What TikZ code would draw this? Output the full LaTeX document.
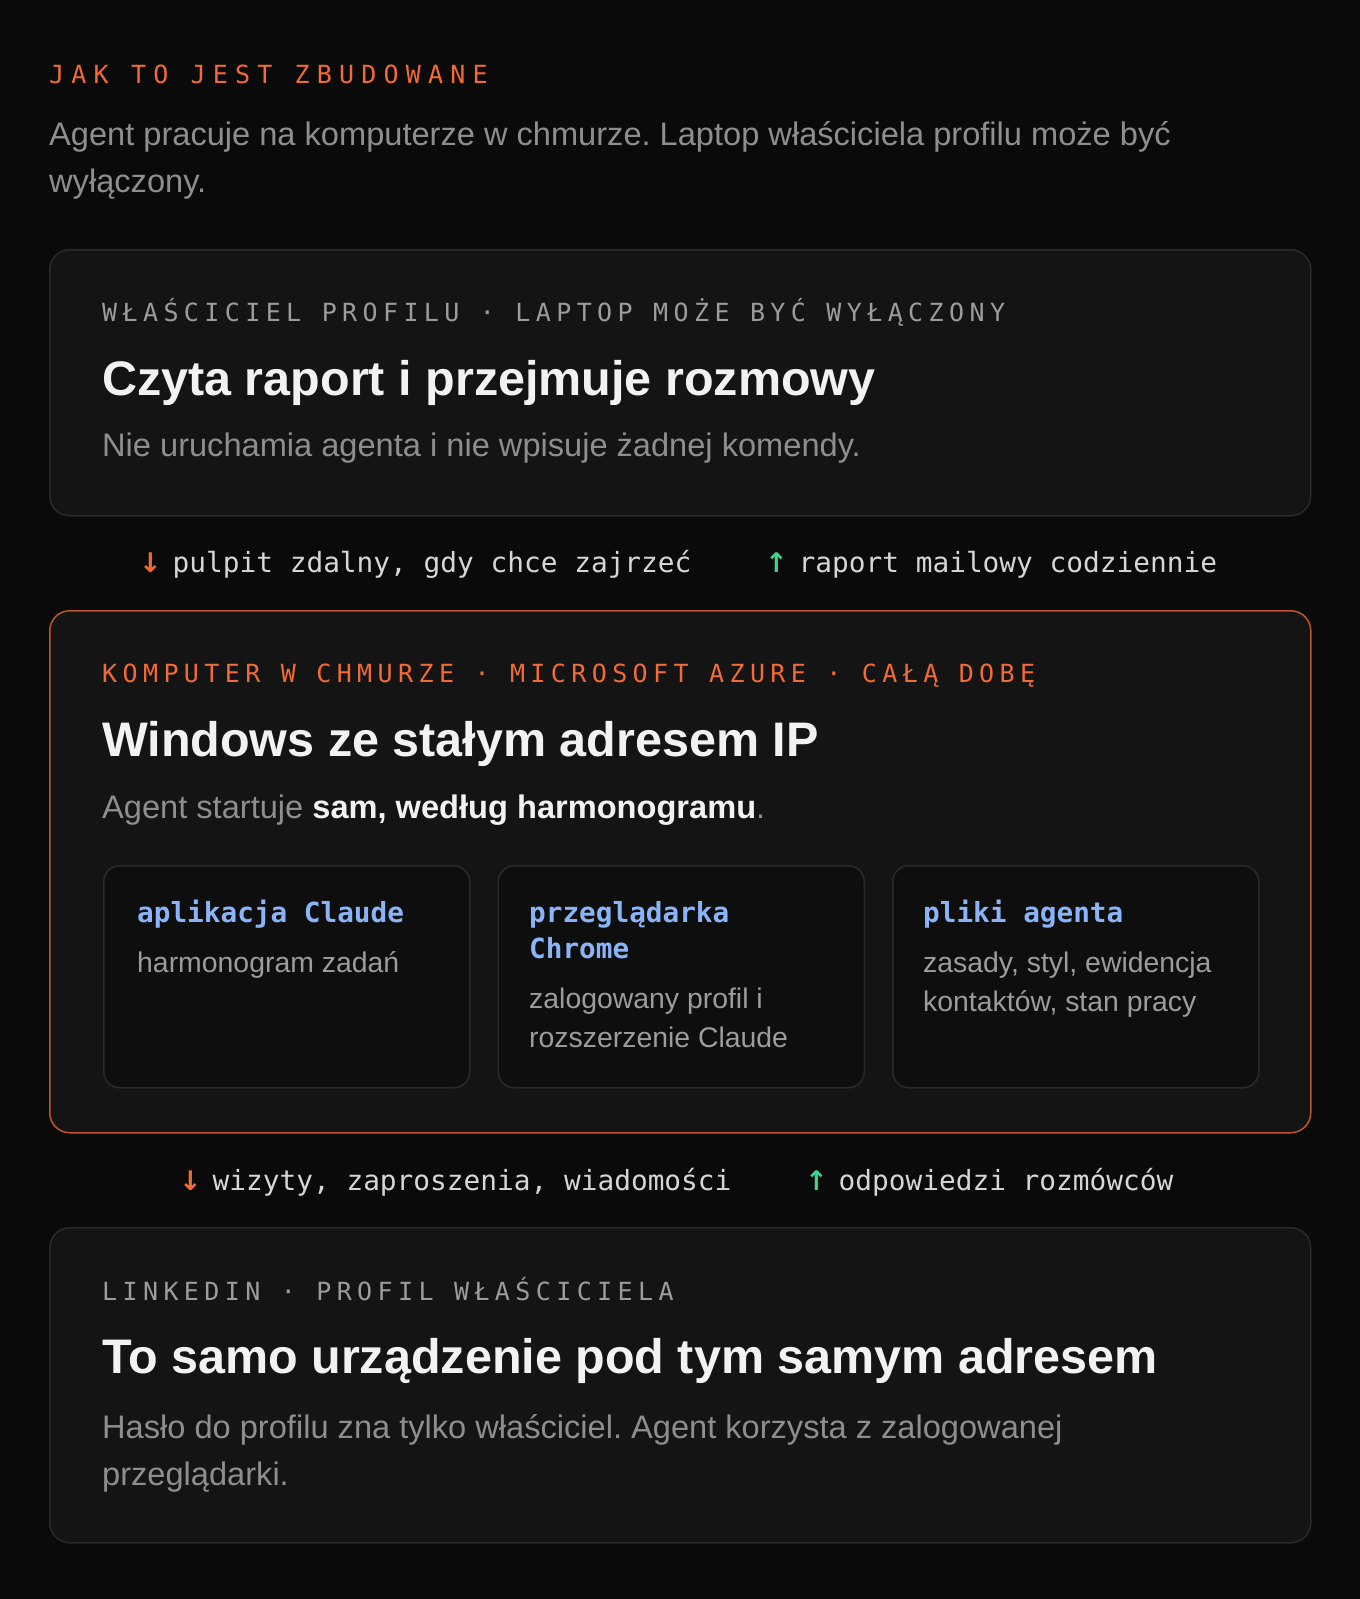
\documentclass[tikz,border=0pt]{standalone}
\usepackage{fontspec}
\setmainfont{Liberation Sans}
\newfontfamily\monofont{DejaVu Sans Mono}
\newfontfamily\arrowfont{DejaVu Sans}
\newfontfamily\capsfont[LetterSpace=21.6]{DejaVu Sans Mono}
\newfontfamily\kickerfont[LetterSpace=28.8]{DejaVu Sans Mono}
\usetikzlibrary{positioning}
\frenchspacing

\definecolor{pagebg}{HTML}{0A0A0A}
\definecolor{cardbg}{HTML}{141414}
\definecolor{tilebg}{HTML}{0E0E0E}
\definecolor{edge}{HTML}{2A2A2A}
\definecolor{hotedge}{HTML}{C0552B}
\definecolor{hot}{HTML}{F26A35}
\definecolor{go}{HTML}{3DD68C}
\definecolor{sky}{HTML}{8AB4F8}
\definecolor{ink}{HTML}{F2F2F0}
\definecolor{mute}{HTML}{8E8E8E}
\definecolor{dim}{HTML}{9C9C9C}
\definecolor{soft}{HTML}{D6D6D6}

\newcommand{\godown}{\makebox[16.7pt][l]{\arrowfont\bfseries\fontsize{27}{34}\selectfont\color{hot}↓}}
\newcommand{\goup}{\makebox[16.7pt][l]{\arrowfont\bfseries\fontsize{27}{34}\selectfont\color{go}↑}}

\begin{document}
\begin{tikzpicture}[x=1pt,y=-1pt,
  every node/.style={inner sep=0pt,anchor=base west},
  card/.style={draw=edge,fill=cardbg,line width=1.5pt,rounded corners=20pt,anchor=north west,minimum width=1261pt},
  tile/.style={draw=edge,fill=tilebg,line width=1.5pt,rounded corners=16pt,anchor=north west,minimum width=366pt,minimum height=222pt},
  kicker/.style={text=dim,font=\capsfont\fontsize{25}{30}\selectfont},
  headline/.style={text=ink,font=\bfseries\fontsize{48.5}{58}\selectfont},
  lead/.style={text=mute,font=\fontsize{32.6}{47}\selectfont,align=left},
  flow/.style={text=soft,font=\monofont\fontsize{27.8}{34}\selectfont},
  tiletitle/.style={text=sky,font=\monofont\bfseries\fontsize{27.7}{36.6}\selectfont,align=left},
  tiletext/.style={text=dim,font=\fontsize{28.4}{39}\selectfont,align=left}]
\fill[pagebg] (0,0) rectangle (1360,1599);
\useasboundingbox (0,0) rectangle (1360,1599);

% intro (two-line nodes sit on their last baseline)
\node[text=hot,font=\kickerfont\fontsize{25}{30}\selectfont] (intro) at (49,83) {JAK TO JEST ZBUDOWANE};
\node[lead] (introtext) at (49,192) {Agent pracuje na komputerze w chmurze. Laptop właściciela profilu może być\\wyłączony.};

% owner
\node[card,minimum height=266pt] (owner) at (49,249) {};
\node[kicker] (ownerkick) at (102,321.5) {WŁAŚCICIEL PROFILU · LAPTOP MOŻE BYĆ WYŁĄCZONY};
\node[headline] (ownerhead) at (102,395) {Czyta raport i przejmuje rozmowy};
\node[lead] (ownertext) at (102,456) {Nie uruchamia agenta i nie wpisuje żadnej komendy.};

\node[flow] (remote) at (139,572) {\godown{} pulpit zdalny, gdy chce zajrzeć};
\node[flow] (mail) at (765,572) {\goup{} raport mailowy codziennie};

% cloud machine
\node[card,draw=hotedge,minimum height=522pt] (cloud) at (49,610) {};
\node[kicker,text=hot] (cloudkick) at (102,682.5) {KOMPUTER W CHMURZE · MICROSOFT AZURE · CAŁĄ DOBĘ};
\node[headline] (cloudhead) at (102,756) {Windows ze stałym adresem IP};
\node[lead] (cloudtext) at (102,818) {Agent startuje {\color{ink}\bfseries sam, według harmonogramu}.};

\node[tile] (app) at (103,865) {};
\node[tile,right=27pt of app] (chrome) {};
\node[tile,right=27pt of chrome] (files) {};
\node[tiletitle] (apphead) at (137,922) {aplikacja Claude};
\node[tiletext] (apptext) at (137,972) {harmonogram zadań};
\node[tiletitle] (chromehead) at (529,958.6) {przeglądarka\\Chrome};
\node[tiletext] (chrometext) at (529,1047) {zalogowany profil i\\rozszerzenie Claude};
\node[tiletitle] (fileshead) at (923,922) {pliki agenta};
\node[tiletext] (filestext) at (923,1011) {zasady, styl, ewidencja\\kontaktów, stan pracy};

\node[flow] (visits) at (179,1190) {\godown{} wizyty, zaproszenia, wiadomości};
\node[flow] (replies) at (805,1190) {\goup{} odpowiedzi rozmówców};

% linkedin
\node[card,minimum height=315pt] (linkedin) at (49,1227) {};
\node[kicker] (linkedinkick) at (102,1300) {LINKEDIN · PROFIL WŁAŚCICIELA};
\node[headline] (linkedinhead) at (102,1373) {To samo urządzenie pod tym samym adresem};
\node[lead] (linkedintext) at (102,1485) {Hasło do profilu zna tylko właściciel. Agent korzysta z zalogowanej\\przeglądarki.};
\end{tikzpicture}
\end{document}
